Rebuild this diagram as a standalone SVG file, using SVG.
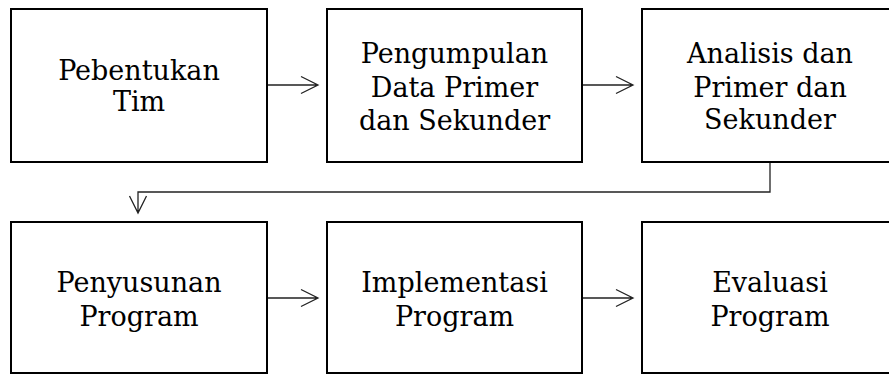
<svg xmlns="http://www.w3.org/2000/svg" width="889" height="375" viewBox="0 0 889 375">
<style>
.box{fill:#fff;stroke:#000;stroke-width:2}
.lbl{font-family:"DejaVu Serif",serif;font-size:27px;fill:#000;text-anchor:middle}
.con{fill:none;stroke:#222;stroke-width:1.3}
</style>
<rect width="889" height="375" fill="#fff"/>
<g id="n1"><rect class="box" x="11" y="9" width="256" height="153"/>
<text class="lbl"><tspan x="139" y="80">Pebentukan</tspan><tspan x="139" y="111">Tim</tspan></text></g>
<g id="n2"><rect class="box" x="327" y="9" width="255" height="153"/>
<text class="lbl"><tspan x="454.5" y="63">Pengumpulan</tspan><tspan x="454.5" y="96.5">Data Primer</tspan><tspan x="454.5" y="130">dan Sekunder</tspan></text></g>
<g id="n3"><rect class="box" x="642" y="9" width="256" height="153"/>
<text class="lbl"><tspan x="770" y="63">Analisis dan</tspan><tspan x="770" y="96.5">Primer dan</tspan><tspan x="770" y="129">Sekunder</tspan></text></g>
<g id="n4"><rect class="box" x="11" y="222" width="256" height="151"/>
<text class="lbl"><tspan x="139" y="292">Penyusunan</tspan><tspan x="139" y="326">Program</tspan></text></g>
<g id="n5"><rect class="box" x="327" y="222" width="255" height="151"/>
<text class="lbl"><tspan x="454.5" y="292">Implementasi</tspan><tspan x="454.5" y="325.5">Program</tspan></text></g>
<g id="n6"><rect class="box" x="642" y="222" width="256" height="151"/>
<text class="lbl"><tspan x="770" y="292">Evaluasi</tspan><tspan x="770" y="325.5">Program</tspan></text></g>
<g id="connectors">
<path class="con" d="M268 85H318M301 76.5L318 85L301 93.5"/>
<path class="con" d="M583 85H633M616 76.5L633 85L616 93.5"/>
<path class="con" d="M770 163V192H138V213M129.5 196L138 213L146.5 196"/>
<path class="con" d="M268 298H318M301 289.5L318 298L301 306.5"/>
<path class="con" d="M583 298H633M616 289.5L633 298L616 306.5"/>
</g>
</svg>
